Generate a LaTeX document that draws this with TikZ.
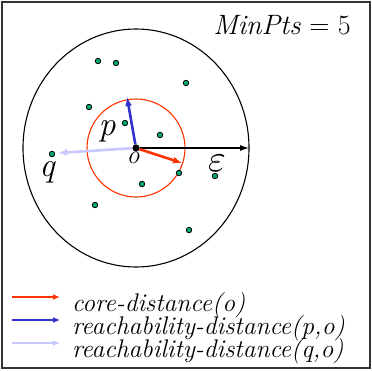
\documentclass[tikz,border=0pt]{standalone}
\usepackage{fontspec}
\usetikzlibrary{arrows.meta, positioning}
\definecolor{coreRed}{HTML}{FF3300}
\definecolor{reachBlue}{HTML}{3333CC}
\definecolor{reachLight}{HTML}{C8C8FF}
\definecolor{ptGreen}{HTML}{00A878}

\begin{document}
\begin{tikzpicture}[
  x=1pt, y=-1pt,
  font=\rmfamily,
  pt/.style={circle, draw=black, fill=ptGreen, line width=0.8pt, inner sep=0pt, minimum size=5.5pt},
  lbl/.style={font=\rmfamily\itshape\fontsize{34}{34}\selectfont, inner sep=0pt},
  arr/.style={-{Latex[length=9pt, width=7pt]}, line width=2.6pt},
  leg/.style={font=\rmfamily\itshape\fontsize{25.5}{22}\selectfont, inner sep=0pt, anchor=west},
]
\useasboundingbox (0,0) rectangle (372,370);
\draw[black!80, line width=1.5pt] (2,2) rectangle (370,368);

% neighbourhoods
\node[circle, fill=black, inner sep=0pt, minimum size=7pt] (o) at (136,148) {};
\draw[line width=1.1pt] (o) ellipse [x radius=113, y radius=119];
\draw[coreRed, line width=1.1pt] (o) circle [radius=49];

% points
\node[pt] (d1) at (98,61) {};
\node[pt] (d2) at (116,63) {};
\node[pt] (d3) at (186,83) {};
\node[pt] (d4) at (89,107) {};
\node[pt] (d5) at (125,123) {};
\node[pt] (d6) at (160,135) {};
\node[pt] (q) at (52,154) {};
\node[pt] (d7) at (179,173) {};
\node[pt] (d8) at (215,176) {};
\node[pt] (d9) at (142,184) {};
\node[pt] (d10) at (95,205) {};
\node[pt] (d11) at (189,230) {};

% arrow ends
\coordinate (pend) at (127,97);
\coordinate (cend) at (182,163);
\coordinate (qend) at (58,153);
\coordinate (eend) at (249,148);

\draw[-{Latex[length=9pt, width=6pt]}, line width=1.1pt] (o) -- (eend);
\draw[arr, reachLight] (o) -- (qend);
\draw[arr, reachBlue] (o) -- (pend);
\draw[arr, coreRed] (o) -- (cend);
\node[circle, fill=black, inner sep=0pt, minimum size=7pt] at (o) {};

% labels
\node[lbl] (plbl) at (107,131) {p};
\node[lbl, font=\rmfamily\itshape\fontsize{26}{26}\selectfont] (olbl) at (133,158) {o};
\node[lbl] (qlbl) at (47,172) {q};
\node[inner sep=0pt] (elbl) at (217,163) {\scalebox{3.8}{$\varepsilon$}};
\node[font=\rmfamily\fontsize{28}{28}\selectfont, inner sep=0pt] (minpts) at (282,25) {\textit{MinPts} = 5};

% legend
\coordinate (l1) at (12,297);
\coordinate (l1e) at (60,297);
\coordinate (l2) at (12,320);
\coordinate (l2e) at (60,320);
\coordinate (l3) at (12,343);
\coordinate (l3e) at (60,343);
\draw[-{Latex[length=7pt, width=6pt]}, coreRed, line width=1.8pt] (l1) -- (l1e);
\draw[-{Latex[length=7pt, width=6pt]}, reachBlue, line width=1.8pt] (l2) -- (l2e);
\draw[-{Latex[length=7pt, width=6pt]}, reachLight, line width=1.8pt] (l3) -- (l3e);
\node[leg] (t1) at (72,305) {core-distance(o)};
\node[leg] (t2) at (72,328) {reachability-distance(p,o)};
\node[leg] (t3) at (72,351) {reachability-distance(q,o)};
\end{tikzpicture}
\end{document}
